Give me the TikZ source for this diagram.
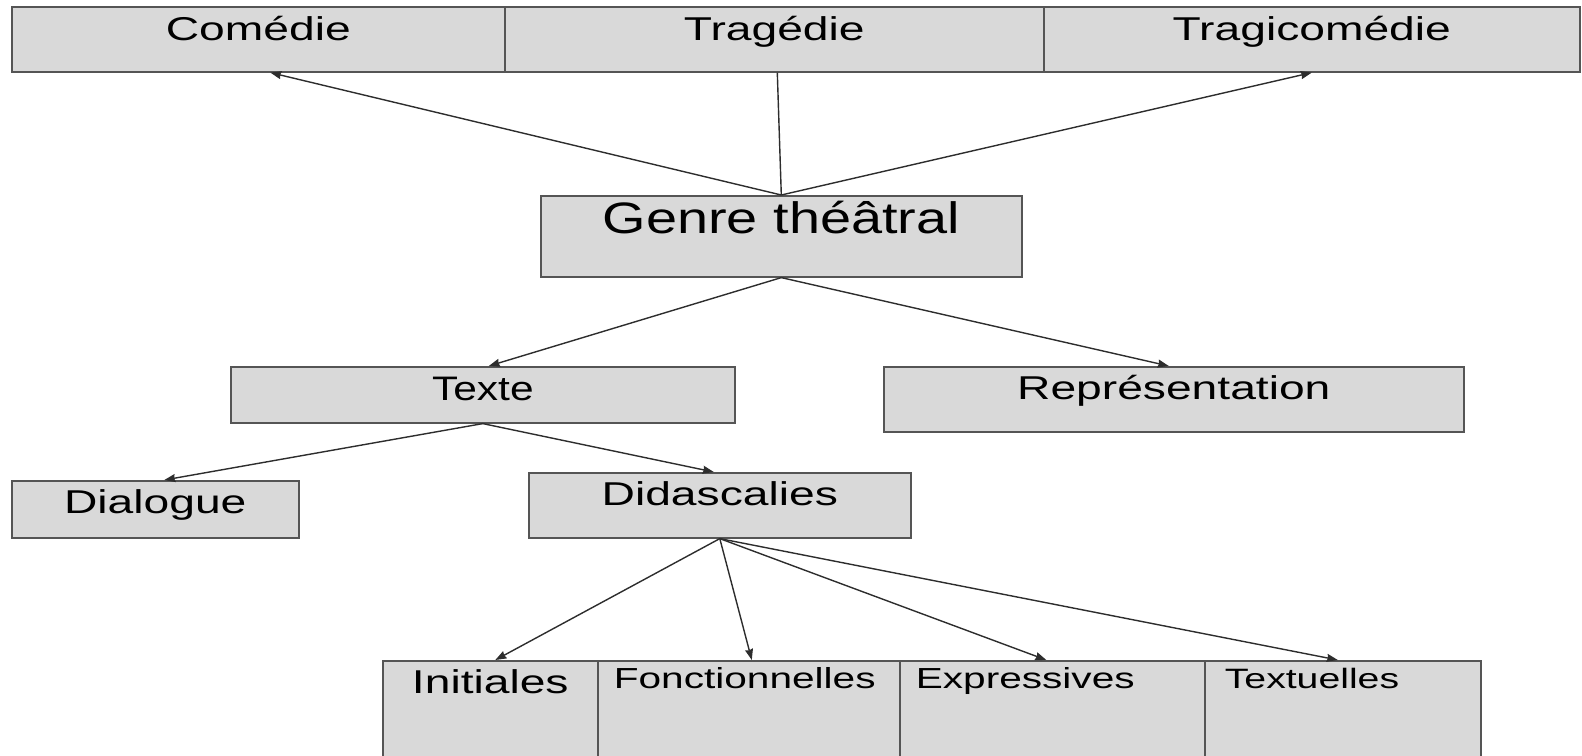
\documentclass[tikz,border=0pt]{standalone}
\usepackage{fontspec}
\setmainfont{Liberation Sans}
\usepackage{tikz}
\usetikzlibrary{arrows.meta}
\usetikzlibrary{positioning}

\definecolor{boxfill}{RGB}{217,217,217}
\definecolor{boxline}{RGB}{85,85,85}
\definecolor{linkline}{RGB}{45,45,45}

\newcommand{\wide}[2][1.4]{\scalebox{#1}[1]{#2}}

\begin{document}
\begin{tikzpicture}[x=1pt, y=-1pt,
        box/.style={draw=boxline, fill=boxfill, line width=1.6pt, inner sep=0pt, anchor=north west},
        big/.style={font=\fontsize{33}{40}\selectfont},
        small/.style={font=\fontsize{29}{35}\selectfont},
        link/.style={draw=linkline, line width=1.4pt, >={Stealth[length=11pt, width=8pt, inset=1pt]}}
    ]
        \useasboundingbox (0,0) rectangle (1582,755);
        % genres
        \node [box, big, minimum width=493pt, text height=34pt, text depth=31pt] (comedie) at (11,6) {\wide{Comédie}};
        \node [box, big, minimum width=539pt, text height=34pt, text depth=31pt] (tragedie) at (504,6) {\wide{Tragédie}};
        \node [box, big, minimum width=536pt, text height=34pt, text depth=31pt] (tragicomedie) at (1043,6) {\wide{Tragicomédie}};
        \node [box, font=\fontsize{44}{52}\selectfont, minimum width=481pt, text height=38pt, text depth=43pt] (genre) at (540,195) {\wide[1.27]{Genre théâtral}};
        % texte et representation
        \node [box, font=\fontsize{34}{40}\selectfont, minimum width=504pt, text height=34pt, text depth=22pt] (texte) at (230,366) {\wide[1.25]{Texte}};
        \node [box, big, minimum width=580pt, text height=33pt, text depth=32pt] (repr) at (883,366) {\wide{Représentation}};
        \node [box, big, minimum width=287pt, text height=33pt, text depth=24pt] (dialogue) at (11,480) {\wide{Dialogue}};
        \node [box, big, minimum width=382pt, text height=33pt, text depth=32pt] (didasc) at (528,472) {\wide{Didascalies}};
        % types de didascalies
        \node [box, big, minimum width=215pt, text height=33pt, text depth=77pt] (initiales) at (382,660) {\wide{Initiales}};
        \node [box, small, inner xsep=16pt, text width=270pt, align=left, text height=28pt, text depth=82pt] (fonct) at (597,660) {\wide{Fonctionnelles}};
        \node [box, small, inner xsep=16pt, text width=273pt, align=left, text height=28pt, text depth=82pt] (express) at (899,660) {\wide{Expressives}};
        \node [box, font=\fontsize{28}{34}\selectfont, inner xsep=20pt, text width=236pt, align=left, text height=28pt, text depth=82pt] (textuel) at (1204,660) {\wide{Textuelles}};

        \draw [link, ->] (genre.north) to ([xshift=12pt]comedie.south);
        \draw [link] (genre.north) to ([xshift=3pt]tragedie.south);
        \draw [link, ->] (genre.north) to (tragicomedie.south);
        \draw [link, ->] (genre.south) to ([xshift=6pt]texte.north);
        \draw [link, ->] (genre.south) to ([xshift=-5pt]repr.north);
        \draw [link, ->] (texte.south) to ([xshift=9pt]dialogue.north);
        \draw [link, ->] (texte.south) to ([xshift=-6pt]didasc.north);
        \draw [link, ->] (didasc.south) to ([xshift=5pt]initiales.north);
        \draw [link, ->] (didasc.south) to ([xshift=3pt]fonct.north);
        \draw [link, ->] (didasc.south) to ([xshift=-6pt]express.north);
        \draw [link, ->] (didasc.south) to ([xshift=-5pt]textuel.north);
    \end{tikzpicture}
\end{document}
